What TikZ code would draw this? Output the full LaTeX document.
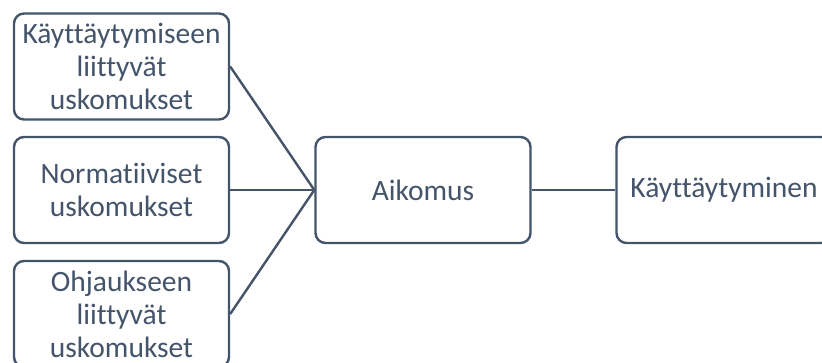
\documentclass[tikz,border=0pt]{standalone}
\usepackage{fontspec}
\setmainfont{Carlito}[Ligatures=NoCommon]
\definecolor{slate}{HTML}{44546A}
\begin{document}
\begin{tikzpicture}[x=1pt,y=-1pt,
  box/.style={draw=slate, line width=2.4pt, rounded corners=10pt, fill=white,
    minimum width=215pt, minimum height=106pt, align=center, inner sep=0pt,
    text=slate, font=\fontsize{29.5}{33}\selectfont},
  link/.style={draw=slate, line width=2.4pt}]
\useasboundingbox (0,0) rectangle (822,363);
\clip (0,0) rectangle (822,363);
\node[box] (b1) at (121.5,66.5) {Käyttäytymiseen\\liittyvät\\uskomukset};
\node[box] (b2) at (121.5,190) {Normatiiviset\\uskomukset};
\node[box] (b3) at (121.5,314) {Ohjaukseen\\liittyvät\\uskomukset};
\node[box] (c) at (423,190) {Aikomus};
\node[box] (r) at (724,190) {Käyttäytyminen};
\draw[link] (b1.east) -- (c.west);
\draw[link] (b2.east) -- (c.west);
\draw[link] (b3.east) -- (c.west);
\draw[link] (c.east) -- (r.west);
\end{tikzpicture}
\end{document}
